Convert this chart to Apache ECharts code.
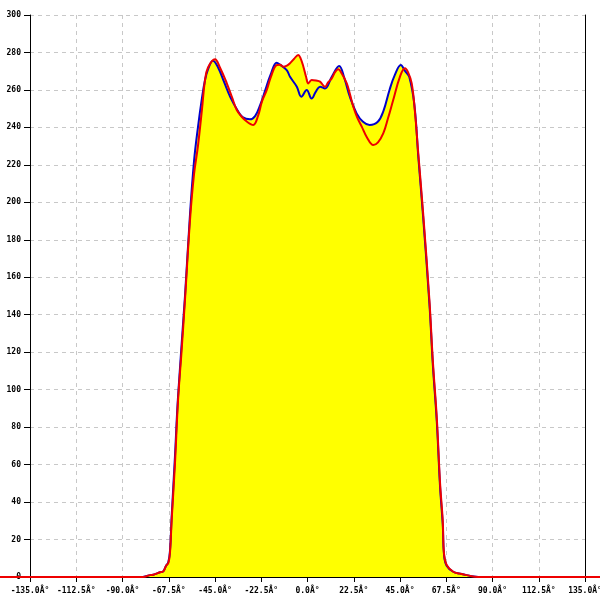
<!DOCTYPE html>
<html>
<head>
<meta charset="utf-8">
<script src="https://cdn.jsdelivr.net/npm/echarts@6/dist/echarts.min.js"></script>
<style>html,body{margin:0;padding:0;background:#fff}#c{width:600px;height:600px}</style>
</head>
<body>
<div id="c"></div>
<script>
// Angle axis ticks (degrees)
const xMin = -135, xMax = 135, xStep = 22.5;
const yMin = 0, yMax = 300, yStep = 20;

// Red series: [angle, value]
const redAngles = [-180, -80, -76.6, -75, -71.8, -70.2, -68.8, -67.7, -66.9, -66.1, -64.5, -63, -61.3, -59.6, -57.2, -55.2, -53.3, -51.3, -49.9, -48.4, -45, -42.6, -39.3, -36.7, -34.4, -32, -29.4, -26.4, -24.1, -22.1, -19.8, -17.8, -15, -13.4, -11.8, -10, -8.5, -6.6, -4.5, -3.4, -2, -0.7, 0.4, 2, 4.1, 6.1, 8.5, 10, 11.8, 13.4, 15, 16.8, 19.1, 20.7, 22.3, 24.1, 26.4, 29, 32, 34.3, 36.9, 39.2, 41.7, 45, 47.4, 48.9, 50.7, 52.3, 53.9, 56.2, 59.3, 61, 62.9, 64.5, 65.8, 66.4, 67.7, 70.9, 74.2, 77.4, 83, 180];
const redValues = [0, 0, 1, 1.2, 2.5, 3, 6, 7.5, 12.8, 30, 60, 94, 120, 148, 190, 215, 230, 250, 265, 272, 276.4, 272, 263.7, 256, 249.3, 245.7, 243, 241.3, 246, 254, 260, 267, 273.3, 273.5, 272.4, 273, 274.2, 276.5, 278.7, 277, 272.4, 267, 263.5, 265.3, 265, 264.4, 261.7, 264, 266.2, 269.5, 271, 268.5, 263.5, 257.5, 251, 245.5, 240.4, 234.5, 230.6, 232, 236.9, 245, 254.6, 267.1, 271.6, 269.5, 263.5, 248, 226, 195, 148, 115, 85, 50, 30, 12.8, 6.4, 2.8, 1.8, 1, 0, 0];

// Blue series: [angle, value]
const blueAngles = [-80, -76.6, -75, -71.8, -70.2, -68.8, -67.7, -66.9, -66.1, -64.5, -63, -59.6, -57.2, -55.2, -53.3, -51.3, -49.9, -48.4, -46, -43.5, -40.5, -37.5, -34, -31.6, -28, -25.5, -23, -20.5, -18, -15, -13.4, -10.1, -8.5, -5.2, -3, -0.4, 2, 4, 6.1, 8.5, 11.8, 15.4, 18, 20.6, 23.9, 27, 30.2, 34.2, 37, 39.9, 42.5, 45.4, 47.5, 49.5, 52, 53.9, 56.2, 59.3, 61, 62.9, 64.5, 65.8, 66.4, 67.7, 70.9, 74.2, 77.4, 83];
const blueValues = [0, 1, 1.2, 2.5, 3, 6, 8, 14, 32, 64, 96, 150, 193, 222, 240, 256, 265, 271, 275.6, 272, 264, 256, 249, 245.5, 244.3, 246, 252, 260, 268, 274.5, 273.5, 270.6, 267, 261.7, 256.4, 260, 255.4, 259, 261.7, 260.8, 267, 272.8, 266, 256.4, 247.5, 243, 241.3, 243, 249, 260, 268, 273.3, 270, 267, 252, 224.4, 193, 146, 113, 83, 48, 28, 12, 6, 2.8, 1.8, 1, 0];

const pair = (xs, ys) => xs.map((x, i) => [x, ys[i]]);
const font = {fontFamily: 'DejaVu Sans Mono', fontSize: 8, fontWeight: 'bold', color: '#000'};

// layout of the plot area (pixels)
const W = 600, gl = 30, gr = 15, gt = 15, gb = 23;
const ppd = (W - gl - gr) / (xMax - xMin);   // pixels per degree
const smooth = 0.4;

const chart = echarts.init(document.getElementById('c'), null, {renderer: 'canvas'});
chart.setOption({
  animation: false,
  backgroundColor: '#fff',
  grid: [
    {left: gl, right: gr, top: gt, bottom: gb, containLabel: false, outerBoundsMode: 'none'},
    // full-width twin grid, same scale, lets the red trace run past the frame
    {left: 0, right: 0, top: gt, bottom: gb, containLabel: false, outerBoundsMode: 'none', show: false}
  ],
  xAxis: [{
    type: 'value', gridIndex: 0, min: xMin, max: xMax, interval: xStep,
    axisLine: {show: true, onZero: false, lineStyle: {color: '#000', width: 1}},
    axisTick: {show: true, length: 5, lineStyle: {color: '#000'}},
    axisLabel: Object.assign({margin: 10, interval: 0, hideOverlap: false, formatter: v => v.toFixed(1) + 'Â°', showMaxLabel: true, showMinLabel: true}, font),
    splitLine: {show: true, lineStyle: {color: '#c8c8c8', type: [4, 4]}}
  }, {
    type: 'value', gridIndex: 1, min: xMin - gl / ppd, max: xMax + gr / ppd, show: false
  }],
  yAxis: [{
    type: 'value', gridIndex: 0, min: yMin, max: yMax, interval: yStep, position: 'left',
    axisLine: {show: true, onZero: false, lineStyle: {color: '#000', width: 1}},
    axisTick: {show: true, length: 6, lineStyle: {color: '#000'}},
    axisLabel: Object.assign({margin: 9}, font),
    splitLine: {show: true, lineStyle: {color: '#c8c8c8', type: [4, 4]}}
  }, {
    type: 'value', gridIndex: 0, min: yMin, max: yMax, interval: yStep, position: 'right',
    axisLine: {show: true, onZero: false, lineStyle: {color: '#000', width: 1}},
    axisTick: {show: false}, axisLabel: {show: false}, splitLine: {show: false}
  }, {
    type: 'value', gridIndex: 1, min: yMin, max: yMax, show: false
  }],
  series: [{
    name: 'blue-area', type: 'line', data: pair(blueAngles, blueValues), smooth, symbol: 'none',
    lineStyle: {width: 0, opacity: 0}, areaStyle: {color: '#ffff00', opacity: 1}, z: 2
  }, {
    name: 'red-area', type: 'line', data: pair(redAngles, redValues), smooth, symbol: 'none',
    lineStyle: {width: 0, opacity: 0}, areaStyle: {color: '#ffff00', opacity: 1}, z: 2
  }, {
    name: 'blue', type: 'line', data: pair(blueAngles, blueValues), smooth, symbol: 'none',
    lineStyle: {color: '#0000cc', width: 2}, z: 3
  }, {
    name: 'red', type: 'line', xAxisIndex: 1, yAxisIndex: 2, data: pair(redAngles, redValues), smooth, symbol: 'none',
    lineStyle: {color: '#ee0000', width: 2}, z: 4
  }]
});
</script>
</body>
</html>
